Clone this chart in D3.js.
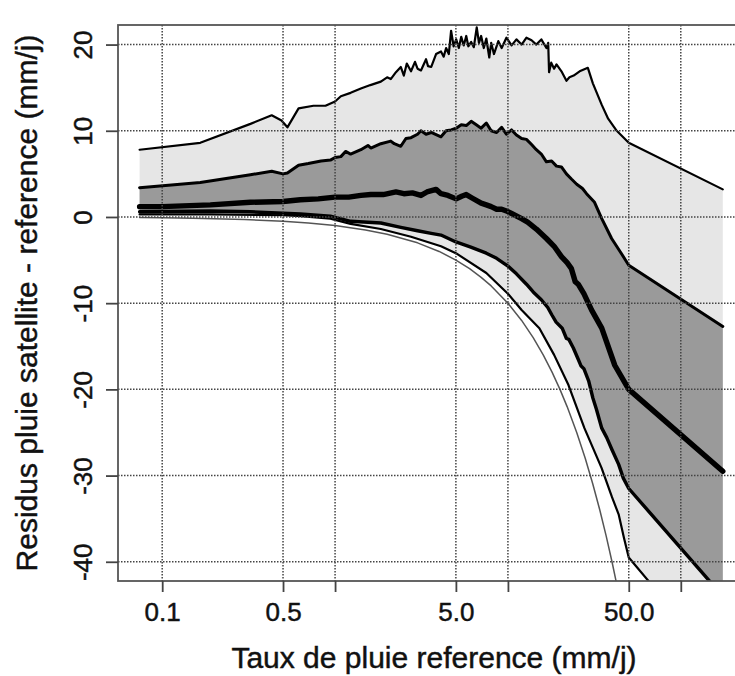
<!DOCTYPE html>
<html><head><meta charset="utf-8">
<script src="https://cdn.jsdelivr.net/npm/d3@7"></script>
<style>html,body{margin:0;padding:0;background:#fff;}svg{display:block;}</style>
</head><body>
<svg id="chart" width="735" height="676"></svg>
<script>
// ---- data ----
const xTicks = [0.1, 0.5, 1, 5, 10, 50, 100];
const xTickLabels = ["0.1", "0.5", "", "5.0", "", "50.0", ""];
const yTicks = [-40, -30, -20, -10, 0, 10, 20];
const yTickLabels = ["-40", "-30", "-20", "-10", "0", "10", "20"];

// upper envelope (top of light band)
const xA = [0.074,0.166,0.324,0.43,0.49,0.53,0.615,0.75,0.88,1.0,1.08,1.23,1.41,1.6,1.84,2.0,2.1,2.25,2.4,2.5,2.6,2.75,2.9,3.0,3.14,3.36,3.45,3.6,3.84,4.1,4.25,4.39,4.55,4.69,4.85,5.02,5.2,5.37,5.55,5.74,5.9,6.13,6.35,6.6,6.8,7.0,7.25,7.5,7.8,8.0,8.3,8.8,9.2,9.8,10.5,11.2,12.0,12.8,13.7,14.6,15.6,16.7,17.1,17.3,17.8,18.5,19.1,20.4,21.8,22.7,24.0,26.0,29.0,31.0,34.9,38.0,42.6,50,175];
const yA = [7.8,8.6,10.8,11.8,11.2,10.4,12.6,12.9,12.9,13.4,14.0,14.4,14.9,15.3,15.7,16.2,16.0,16.8,17.4,16.4,17.8,16.9,18.0,17.2,17.0,18.3,17.5,17.4,18.9,19.2,18.6,19.6,18.9,21.6,19.8,20.6,19.6,20.9,19.9,21.0,19.8,20.3,19.7,22.0,20.2,21.0,19.6,20.7,18.5,20.2,18.9,20.4,19.6,20.8,19.9,20.6,20.0,20.8,20.5,20.0,20.6,19.6,20.2,16.8,17.9,17.2,17.7,16.9,15.8,16.2,16.4,16.9,17.3,15.5,13.0,11.4,10.0,8.6,3.2];

// top of dark band
const xB = [0.074,0.166,0.324,0.43,0.5,0.53,0.615,0.7,0.83,0.94,1.0,1.08,1.15,1.23,1.41,1.55,1.61,1.84,2.1,2.2,2.4,2.57,2.75,3.0,3.14,3.36,3.6,4.1,4.39,4.69,5.02,5.37,5.74,6.13,6.56,7.0,7.5,8.0,8.6,9.2,9.8,10.5,11.2,12.0,12.8,13.7,14.6,15.6,16.7,17.9,19.1,20.4,21.8,23.3,25.0,27.0,28.5,31.7,34.9,39.8,45.5,50,175];
const yB = [3.4,4.0,4.9,5.3,5.0,5.1,6.0,6.2,6.5,6.6,6.9,7.0,7.6,7.3,7.8,8.3,8.0,8.5,8.8,8.5,8.2,9.1,9.2,9.6,10.0,9.6,9.8,9.3,10.0,10.1,10.3,10.7,10.6,11.1,10.7,10.3,10.9,10.0,9.8,10.4,9.6,10.1,9.5,9.1,9.0,8.4,7.8,7.3,6.4,6.5,5.9,5.8,5.0,4.4,3.8,3.3,2.7,1.7,-0.2,-2.5,-4.3,-5.6,-12.7];

// median
const xC = [0.074,0.1,0.19,0.324,0.5,0.63,0.8,1.0,1.2,1.41,1.61,1.9,2.25,2.5,2.8,3.14,3.4,3.84,4.1,4.5,5.02,5.4,5.74,6.2,7.0,7.5,8.0,8.6,9.2,9.8,10.5,12.0,13.0,14.6,16.7,18.5,20.4,22.0,23.3,24.5,25.5,27.5,30.5,34.9,41.5,50,175];
const yC = [1.2,1.2,1.4,1.7,1.8,2.0,2.1,2.3,2.3,2.5,2.6,2.6,2.9,2.7,2.8,2.5,2.9,3.2,2.7,2.5,2.1,2.4,2.6,2.2,1.6,1.4,1.2,0.9,0.9,0.7,0.4,-0.2,-0.6,-1.4,-2.5,-3.4,-4.6,-5.3,-6.0,-7.5,-7.8,-8.9,-10.8,-12.9,-17.2,-20.0,-29.5];

// bottom of dark band
const xD = [0.074,0.19,0.324,0.63,0.94,1.23,1.84,2.4,3.0,3.6,4.1,5.0,6.1,7.5,8.6,10.0,11.2,12.8,14.0,15.6,17.0,18.0,19.0,20.6,21.8,22.5,23.9,25.5,26.5,27.5,29.3,31.0,32.5,34.9,37.3,40.0,43.7,46.5,50,175];
const yD = [0.6,0.7,0.6,0.35,0.1,-0.5,-0.7,-1.2,-1.6,-1.9,-2.1,-2.9,-3.5,-4.2,-4.8,-5.7,-6.6,-7.8,-8.7,-9.6,-10.5,-11.4,-12.2,-12.9,-14.1,-14.2,-15.2,-16.5,-17.3,-17.6,-19.0,-21.0,-22.3,-24.5,-25.6,-27.0,-28.7,-30.3,-31.5,-44.0];

// bottom of light band
const xF = [0.074,0.19,0.5,0.63,0.94,1.23,1.84,2.75,4.1,5.0,7.5,10.0,12.0,15.2,18.5,22.4,27.7,34.8,40.0,43.7,47.0,50,175];
const yF = [0.3,0.3,0.2,0.1,-0.2,-0.8,-1.4,-2.3,-3.4,-4.2,-6.5,-8.9,-10.8,-12.9,-16.0,-19.5,-24.5,-29.1,-32.5,-34.5,-37.3,-39.5,-52.5];

// lower limit (satellite = 0)
const xG = [0.074,0.1,0.15,0.2,0.3,0.5,0.7,1,1.5,2,3,4,5,6,7,8,10,12,14,16,18,20,22,25,28,31,34,37,40,43,46,50];
const yG = [-0.074,-0.1,-0.15,-0.2,-0.3,-0.5,-0.7,-1,-1.5,-2,-3,-4,-5,-6,-7,-8,-10,-12,-14,-16,-18,-20,-22,-25,-28,-31,-34,-37,-40,-43,-46,-50];

const xTitle = "Taux de pluie reference (mm/j)";
const yTitle = "Residus pluie satellite - reference (mm/j)";

// ---- drawing ----
const svg = d3.select("#chart");
const L = 118, R = 742, T = 25, B = 581;
const x = d3.scaleLog().domain([0.0555, 226]).range([L, R]);
const y = d3.scaleLinear().domain([-42.23, 22.27]).range([B, T]);

svg.append("defs").append("clipPath").attr("id", "clip")
  .append("rect").attr("x", L).attr("y", T).attr("width", R - L).attr("height", B - T);

const pts = (xs, ys) => xs.map((v, i) => [x(v), y(ys[i])]);
const line = d3.line().curve(d3.curveLinear);

const plot = svg.append("g").attr("clip-path", "url(#clip)");

// bands
const lightPoly = pts(xA, yA).concat(pts(xF, yF).reverse());
plot.append("path").attr("d", line(lightPoly) + "Z").attr("fill", "#e6e6e6");
const darkPoly = pts(xB, yB).concat(pts(xD, yD).reverse());
plot.append("path").attr("d", line(darkPoly) + "Z").attr("fill", "#9a9a9a");

// grid
const grid = svg.append("g");
xTicks.forEach(t => grid.append("line")
  .attr("x1", x(t)).attr("x2", x(t)).attr("y1", T).attr("y2", B)
  .attr("stroke", "#444").attr("stroke-width", 1.5).attr("stroke-dasharray", "1.5,1.5"));
yTicks.forEach(t => grid.append("line")
  .attr("x1", L).attr("x2", R).attr("y1", y(t)).attr("y2", y(t))
  .attr("stroke", "#444").attr("stroke-width", 1.5).attr("stroke-dasharray", "1.5,1.5"));

// lines
const series = [
  {xs: xG, ys: yG, c: "#555", w: 1.5},
  {xs: xF, ys: yF, c: "#000", w: 2.2},
  {xs: xD, ys: yD, c: "#000", w: 3.4},
  {xs: xC, ys: yC, c: "#000", w: 5.4},
  {xs: xB, ys: yB, c: "#000", w: 3.0},
  {xs: xA, ys: yA, c: "#000", w: 2.2}
];
series.forEach(s => plot.append("path")
  .attr("d", line(pts(s.xs, s.ys)))
  .attr("fill", "none").attr("stroke", s.c).attr("stroke-width", s.w)
  .attr("stroke-linejoin", "round").attr("stroke-linecap", "round"));

// frame
svg.append("rect").attr("x", L).attr("y", T).attr("width", R - L).attr("height", B - T)
  .attr("fill", "none").attr("stroke", "#555").attr("stroke-width", 1.8);

const font = "'Liberation Sans', Arial, sans-serif";
const styleText = sel => sel.attr("font-family", font).attr("fill", "#111")
  .attr("stroke", "#111").attr("stroke-width", 0.45);

// x axis
const xAxis = d3.axisBottom(x).tickValues(xTicks)
  .tickFormat((d, i) => xTickLabels[i]).tickSize(11).tickPadding(11);
const gx = svg.append("g").attr("transform", `translate(0,${B})`).call(xAxis);
gx.select(".domain").remove();
gx.selectAll(".tick line").attr("stroke", "#444").attr("stroke-width", 1.8);
gx.selectAll(".tick text").call(styleText).attr("font-size", 26);

// y axis
const yAxis = d3.axisLeft(y).tickValues(yTicks)
  .tickFormat((d, i) => yTickLabels[i]).tickSize(12);
const gy = svg.append("g").attr("transform", `translate(${L},0)`).call(yAxis);
gy.select(".domain").remove();
gy.selectAll(".tick line").attr("stroke", "#444").attr("stroke-width", 1.8);
gy.selectAll(".tick text").call(styleText).attr("font-size", 26)
  .attr("x", null).attr("dy", null)
  .attr("text-anchor", "middle")
  .attr("transform", "translate(-26,0) rotate(-90)");

// titles
svg.append("text").attr("x", 434).attr("y", 668)
  .attr("text-anchor", "middle").call(styleText).attr("font-size", 30)
  .text(xTitle);
svg.append("text")
  .attr("transform", `translate(37,${(T + B) / 2}) rotate(-90)`)
  .attr("text-anchor", "middle").call(styleText).attr("font-size", 30)
  .text(yTitle);
</script>
</body></html>
